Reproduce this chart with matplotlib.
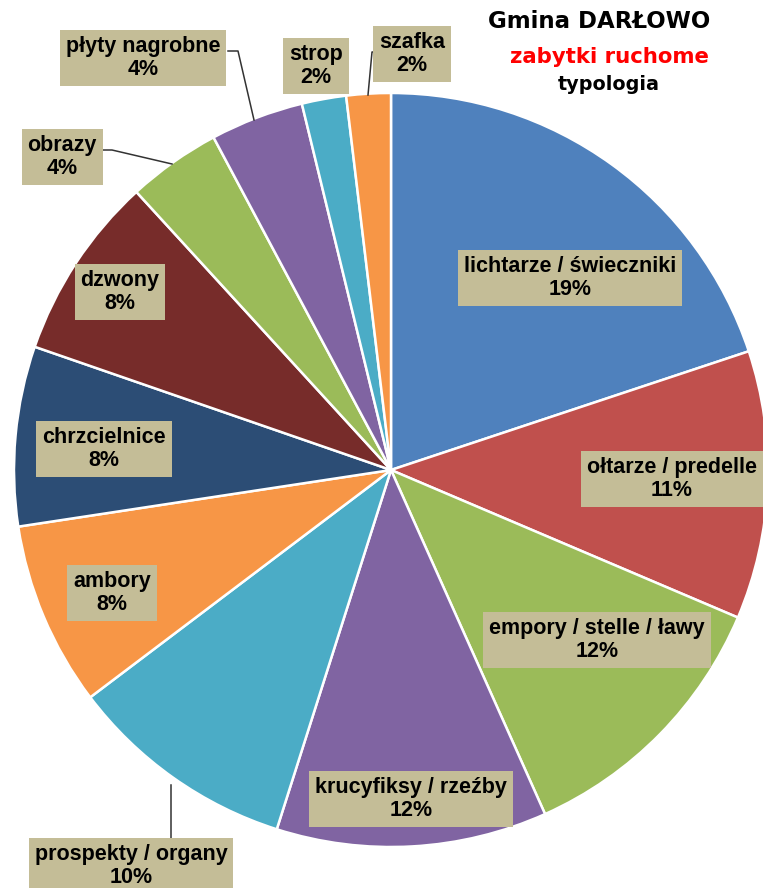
import matplotlib.pyplot as plt

labels = ['lichtarze / świeczniki', 'ołtarze / predelle', 'empory / stelle / ławy',
          'krucyfiksy / rzeźby', 'prospekty / organy', 'ambory', 'chrzcielnice',
          'dzwony', 'obrazy', 'płyty nagrobne', 'strop', 'szafka']
shares = [19.9, 11.5, 11.9, 11.6, 9.8, 7.9, 7.7, 7.9, 4.0, 4.0, 1.9, 1.9]
pct_text = ['19%', '11%', '12%', '12%', '10%', '8%', '8%', '8%', '4%', '4%', '2%', '2%']
colors = ['#4F81BD', '#C0504D', '#9BBB59', '#8064A2', '#4BACC6', '#F79646',
          '#2C4D75', '#772C2A', '#9BBB59', '#8064A2', '#4BACC6', '#F79646']

W, H = 763, 888
fig = plt.figure(figsize=(W / 100, H / 100), dpi=100)
ax = fig.add_axes([0, 0, 1, 1])

cx, cy, r = 391, H - 470, 377
ax.pie(shares, colors=colors, startangle=90, counterclock=False,
       center=(cx, cy), radius=r, frame=True,
       wedgeprops=dict(edgecolor='white', linewidth=1.8))
ax.set_xlim(0, W)
ax.set_ylim(0, H)
ax.set_aspect('equal')
ax.axis('off')

# label box centres (pixel coords, from top)
box_pos = [(570, 278), (672, 479), (597, 640), (411, 799), (131, 866),
           (112, 593), (104, 449), (120, 292), (62, 157), (143, 58),
           (316, 66), (412, 54)]

box = dict(boxstyle='square,pad=0.27', facecolor='#C4BD97', edgecolor='none')
for lab, p, (x, y) in zip(labels, pct_text, box_pos):
    ax.text(x, H - y, f'{lab}\n{p}', ha='center', va='center',
            fontsize=15.5, fontweight='bold', family='Liberation Sans',
            linespacing=1.12, bbox=box, zorder=5)

# leader lines
leaders = [
    [(171, 785), (171, 838)],
    [(102, 150), (112, 150), (172, 164)],
    [(228, 51), (238, 51), (254, 120)],
    [(375, 52), (372, 52), (368, 95)],
]
for pts in leaders:
    xs = [q[0] for q in pts]
    ys = [H - q[1] for q in pts]
    ax.plot(xs, ys, color='#333333', lw=1.1, zorder=4)

ax.text(599, H - 22, 'Gmina DARŁOWO', ha='center', va='center',
        fontsize=16.5, fontweight='bold', family='DejaVu Sans')
ax.text(609, H - 57, 'zabytki ruchome', ha='center', va='center',
        fontsize=15.3, fontweight='bold', family='DejaVu Sans', color='#FF0000')
ax.text(609, H - 85, 'typologia', ha='center', va='center',
        fontsize=13.8, fontweight='bold', family='DejaVu Sans')

fig.savefig('out.png', dpi=100)
